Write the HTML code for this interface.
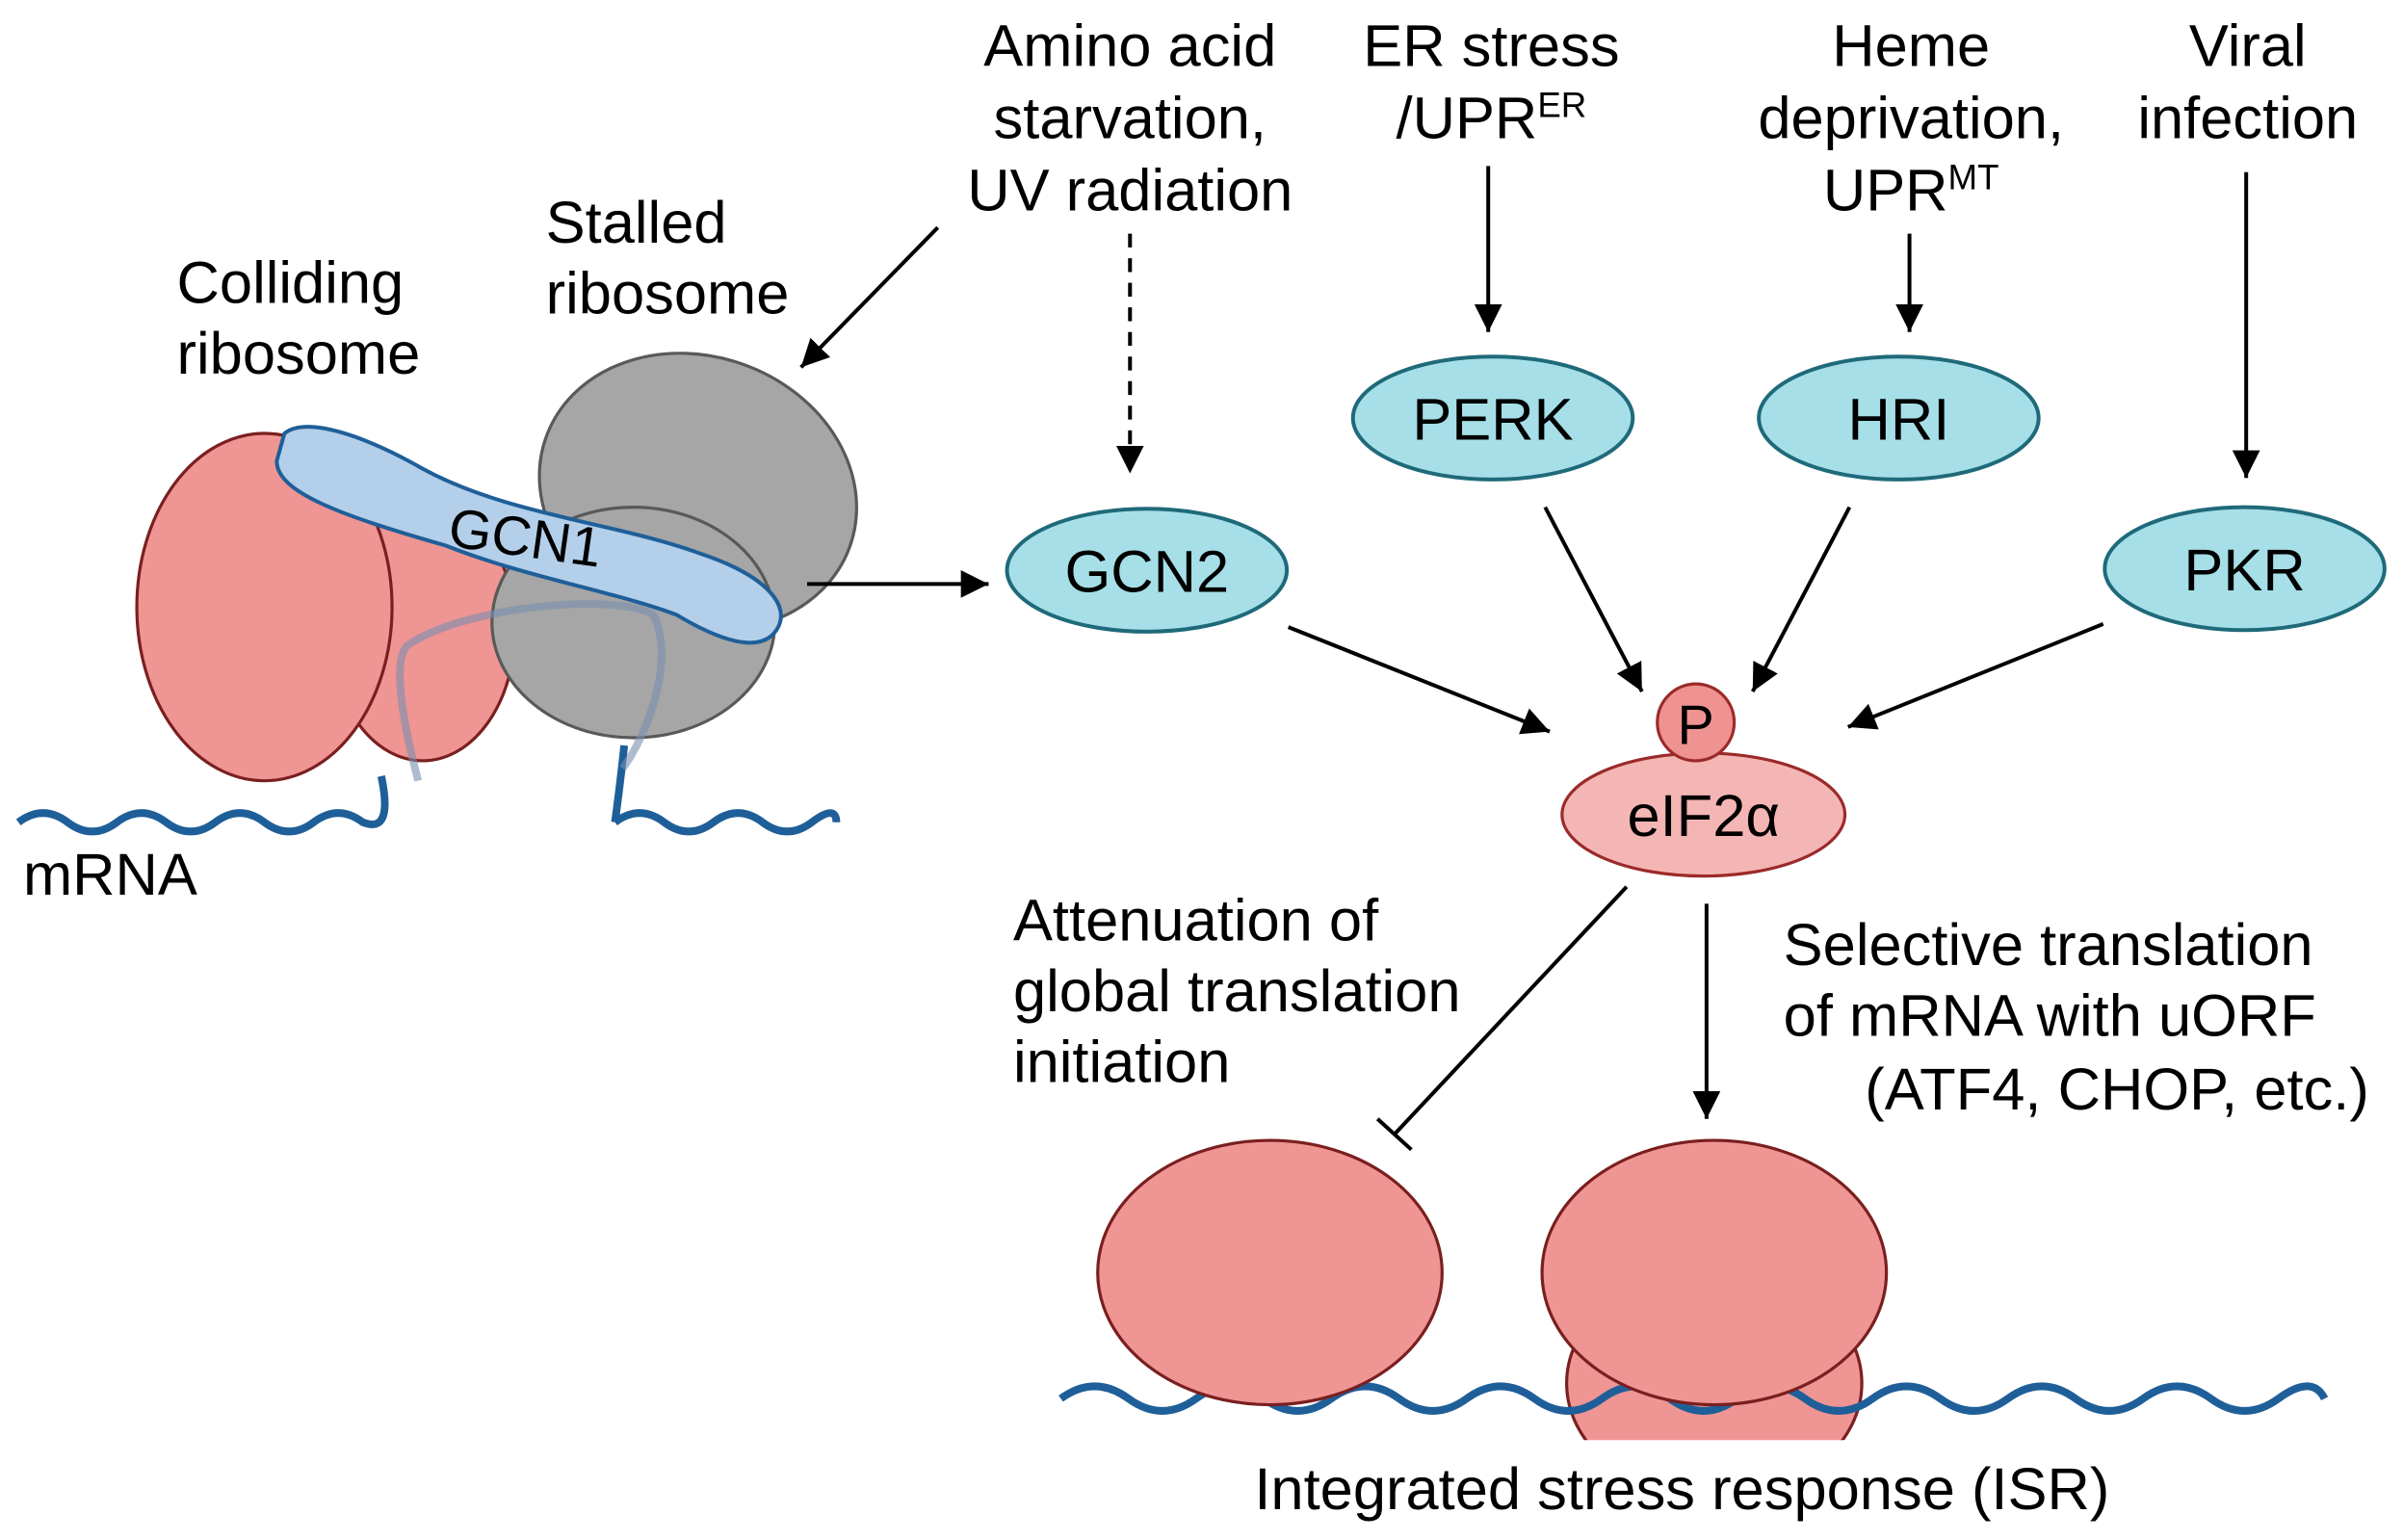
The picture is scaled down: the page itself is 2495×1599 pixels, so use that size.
<!DOCTYPE html>
<html><head><meta charset="utf-8"><style>
html,body{margin:0;padding:0;background:#fff;}
svg{display:block;}
text{font-family:"Liberation Sans",Arial,sans-serif;fill:#000;}
</style></head><body>
<svg width="2495" height="1599" viewBox="0 0 1563 1002" preserveAspectRatio="none" xmlns="http://www.w3.org/2000/svg">
<defs>
<marker id="a2" viewBox="0 0 10 10" refX="10" refY="5" markerWidth="18" markerHeight="18" orient="auto" markerUnits="userSpaceOnUse"><path d="M0,0 L10,5 L0,10 z" fill="#000"/></marker>
<clipPath id="cb"><rect x="0" y="0" width="1563" height="937"/></clipPath>
</defs>

<g font-size="38.5" text-anchor="middle">
<text x="735" y="43">Amino acid</text>
<text x="735" y="90">starvation,</text>
<text x="735" y="137">UV radiation</text>
<text x="970" y="43">ER stress</text>
<text x="970" y="90">/UPR<tspan font-size="23" dy="-14">ER</tspan></text>
<text x="1243" y="43">Heme</text>
<text x="1243" y="90">deprivation,</text>
<text x="1243" y="137">UPR<tspan font-size="23" dy="-14">MT</tspan></text>
<text x="1462" y="43">Viral</text>
<text x="1462" y="90">infection</text>
</g>
<g font-size="38.5">
<text x="355" y="158">Stalled</text>
<text x="355" y="204">ribosome</text>
<text x="115" y="197">Colliding</text>
<text x="115" y="243">ribosome</text>
<text x="15" y="582">mRNA</text>
<text x="659" y="612">Attenuation of</text>
<text x="659" y="658">global translation</text>
<text x="659" y="704">initiation</text>
<text x="1160" y="628">Selective translation</text>
<text x="1160" y="674">of mRNA with uORF</text>
<text x="1213" y="722">(ATF4, CHOP, etc.)</text>
<text x="1094" y="982" text-anchor="middle">Integrated stress response (ISR)</text>
</g>

<!-- left ribosome complex -->
<path d="M12,535 q16,-12 32,0 t32,0 t32,0 t32,0 t32,0 t32,0 t32,0 q20,8 12,-30" fill="none" stroke="#1f5f99" stroke-width="5"/>
<path d="M400,535 q4,-30 6,-50 M400,535 q16,-12 32,0 t32,0 t32,0 t32,0 t16,0" fill="none" stroke="#1f5f99" stroke-width="5"/>
<ellipse cx="275" cy="410" rx="60" ry="85" fill="#ef9593" stroke="#7a1f1f" stroke-width="2"/>
<ellipse cx="172" cy="395" rx="83" ry="113" fill="#ef9593" stroke="#7a1f1f" stroke-width="2"/>
<ellipse cx="454" cy="320" rx="105" ry="88" transform="rotate(20 454 320)" fill="#a6a6a6" stroke="#595959" stroke-width="2"/>
<ellipse cx="412" cy="405" rx="92" ry="75" fill="#a6a6a6" stroke="#595959" stroke-width="2"/>
<path d="M272,508 C262,470 255,430 265,420 C300,395 400,385 425,400 C440,430 420,480 405,500" fill="none" stroke="#7a8fb0" stroke-opacity="0.6" stroke-width="5"/>
<path d="M185,282 C200,270 240,285 275,305 C330,335 400,340 455,360 C500,375 515,395 505,410 C495,425 470,418 440,400 C400,385 340,375 290,355 C220,335 180,320 180,300 Z" fill="#b4cfe9" stroke="#1f5f99" stroke-width="2.5"/>
<text x="340" y="362" font-size="36" transform="rotate(8 340 362)" text-anchor="middle">GCN1</text>

<line x1="610" y1="148" x2="521" y2="239" stroke="#000" stroke-width="2.5" marker-end="url(#a2)"/>
<line x1="735" y1="152" x2="735" y2="308" stroke="#000" stroke-width="2.5" stroke-dasharray="9,7" marker-end="url(#a2)"/>
<line x1="968" y1="108" x2="968" y2="216" stroke="#000" stroke-width="2.5" marker-end="url(#a2)"/>
<line x1="1242" y1="152" x2="1242" y2="216" stroke="#000" stroke-width="2.5" marker-end="url(#a2)"/>
<line x1="1461" y1="112" x2="1461" y2="311" stroke="#000" stroke-width="2.5" marker-end="url(#a2)"/>
<line x1="525" y1="380" x2="643" y2="380" stroke="#000" stroke-width="2.5" marker-end="url(#a2)"/>

<g fill="#a6dfe8" stroke="#1f6a7a" stroke-width="2.5">
<ellipse cx="746" cy="371" rx="91" ry="40"/>
<ellipse cx="971" cy="272" rx="91" ry="40"/>
<ellipse cx="1235" cy="272" rx="91" ry="40"/>
<ellipse cx="1460" cy="370" rx="91" ry="40"/>
</g>
<g font-size="38.5" text-anchor="middle">
<text x="746" y="385">GCN2</text>
<text x="971" y="286">PERK</text>
<text x="1235" y="286">HRI</text>
<text x="1460" y="384">PKR</text>
</g>

<line x1="838" y1="408" x2="1008" y2="476" stroke="#000" stroke-width="2.5" marker-end="url(#a2)"/>
<line x1="1005" y1="330" x2="1068" y2="450" stroke="#000" stroke-width="2.5" marker-end="url(#a2)"/>
<line x1="1203" y1="330" x2="1140" y2="450" stroke="#000" stroke-width="2.5" marker-end="url(#a2)"/>
<line x1="1368" y1="406" x2="1202" y2="473" stroke="#000" stroke-width="2.5" marker-end="url(#a2)"/>

<ellipse cx="1108" cy="530" rx="92" ry="40" fill="#f4b6b4" stroke="#9b2a2a" stroke-width="2"/>
<circle cx="1103" cy="470" r="25" fill="#ee9391" stroke="#9b2a2a" stroke-width="2"/>
<text x="1103" y="484" font-size="36" text-anchor="middle">P</text>
<text x="1108" y="544" font-size="38.5" text-anchor="middle">eIF2α</text>

<line x1="1058" y1="577" x2="907" y2="738" stroke="#000" stroke-width="2.5"/>
<line x1="896" y1="728" x2="918" y2="748" stroke="#000" stroke-width="2.5"/>
<line x1="1110" y1="588" x2="1110" y2="728" stroke="#000" stroke-width="2.5" marker-end="url(#a2)"/>

<g clip-path="url(#cb)">
<ellipse cx="1115" cy="900" rx="96" ry="75" fill="#ef9593" stroke="#7a1f1f" stroke-width="2"/>
</g>
<path d="M690,910 q22,-16 44,0 t44,0 t44,0 t44,0 t44,0 t44,0 t44,0 t44,0 t44,0 t44,0 t44,0 t44,0 t44,0 t44,0 t44,0 t44,0 t44,0 t44,0 t30,0" fill="none" stroke="#1f5f99" stroke-width="5"/>
<ellipse cx="826" cy="828" rx="112" ry="86" fill="#ef9593" stroke="#7a1f1f" stroke-width="2"/>
<ellipse cx="1115" cy="828" rx="112" ry="86" fill="#ef9593" stroke="#7a1f1f" stroke-width="2"/>
</svg>
</body></html>
